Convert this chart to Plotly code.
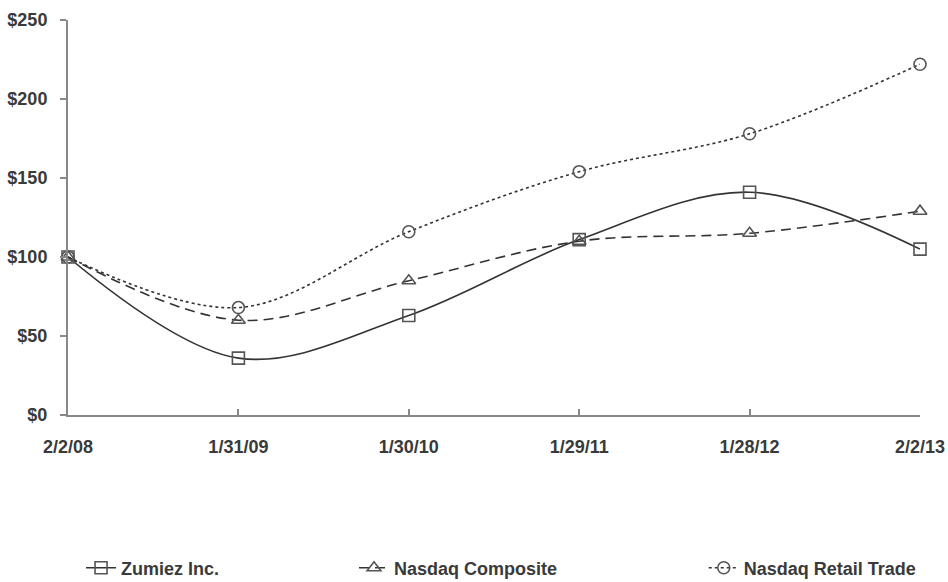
import plotly.graph_objects as go

dates = ["2/2/08", "1/31/09", "1/30/10", "1/29/11", "1/28/12", "2/2/13"]
zumiez = [100, 36, 63, 111, 141, 105]
nasdaq_composite = [100, 60, 85, 110, 115, 129]
nasdaq_retail = [100, 68, 116, 154, 178, 222]
y_ticks = [0, 50, 100, 150, 200, 250]
y_labels = ["$0", "$50", "$100", "$150", "$200", "$250"]

xs = list(range(len(dates)))
FONT = "Liberation Sans, Arial"
LINE = "#333333"
MARK = "#555555"
TXT = "#3a3a3a"
FS = 18

fig = go.Figure()
fig.add_trace(go.Scatter(
    x=xs, y=zumiez, name="Zumiez Inc.", mode="lines+markers",
    line=dict(color=LINE, width=1.6, shape="spline", smoothing=1),
    marker=dict(symbol="square-open", size=12, color=MARK, line=dict(width=1.6)),
    legend="legend", cliponaxis=False))
fig.add_trace(go.Scatter(
    x=xs, y=nasdaq_composite, name="Nasdaq Composite", mode="lines+markers",
    line=dict(color=LINE, width=1.6, shape="spline", smoothing=1, dash="10px,6px"),
    marker=dict(symbol="triangle-up-open", size=12, color=MARK, line=dict(width=1.6)),
    legend="legend2", cliponaxis=False))
fig.add_trace(go.Scatter(
    x=xs, y=nasdaq_retail, name="Nasdaq Retail Trade", mode="lines+markers",
    line=dict(color=LINE, width=1.6, shape="spline", smoothing=1, dash="3px,3px"),
    marker=dict(symbol="circle-open", size=12, color=MARK, line=dict(width=1.6)),
    legend="legend3", cliponaxis=False))

leg_common = dict(orientation="h", xref="paper", yref="container", yanchor="middle",
                  y=0.024, font=dict(family=FONT, size=FS, color=TXT, weight="bold"),
                  bgcolor="rgba(0,0,0,0)")

fig.update_layout(
    width=948, height=582,
    margin=dict(l=68, r=28, t=20, b=167),
    paper_bgcolor="white", plot_bgcolor="white",
    font=dict(family=FONT, size=FS, color=TXT),
    showlegend=True,
    legend=dict(**leg_common, x=0.0153, xanchor="left"),
    legend2=dict(**leg_common, x=0.3357, xanchor="left"),
    legend3=dict(**leg_common, x=0.7462, xanchor="left"),
    xaxis=dict(range=[0, 5], tickvals=xs, ticktext=dates, showgrid=False,
               zeroline=False, showline=True, linecolor="#888888", linewidth=2,
               ticks="inside", ticklen=6, tickcolor="#888888", tickwidth=1.5,
               tickfont=dict(family=FONT, size=FS, color=TXT, weight="bold"),
               ticklabelstandoff=14, automargin=False),
    yaxis=dict(range=[0, 250], tickvals=y_ticks, ticktext=y_labels, showgrid=False,
               zeroline=False, showline=True, linecolor="#888888", linewidth=2,
               ticks="outside", ticklen=6, tickcolor="#888888", tickwidth=1.5,
               tickfont=dict(family=FONT, size=FS, color=TXT, weight="bold"),
               ticklabelstandoff=9, automargin=False),
)

fig.write_html("out.html",
               config={"displayModeBar": False},
               post_script="document.body.style.margin='0';document.body.style.overflow='hidden';")
